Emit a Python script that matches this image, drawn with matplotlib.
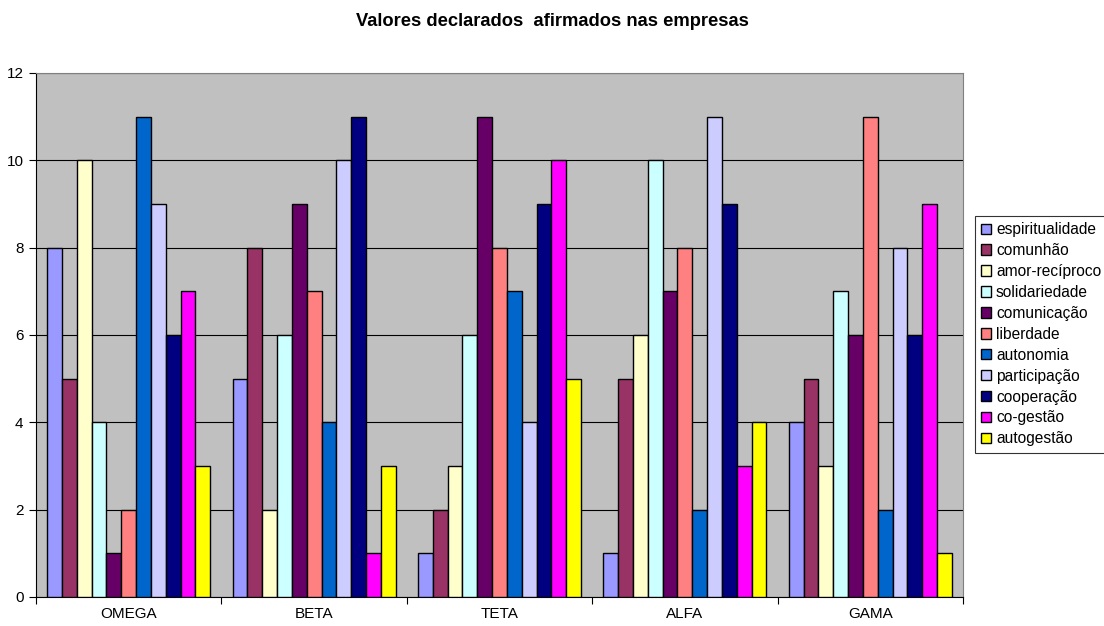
import numpy as np
import matplotlib
matplotlib.use("Agg")
from matplotlib import pyplot as plt

plt.rcParams['font.family'] = ['Liberation Sans', 'DejaVu Sans']

empresas = ['OMEGA', 'BETA', 'TETA', 'ALFA', 'GAMA']
valores = ['espiritualidade', 'comunhão', 'amor-recíproco', 'solidariedade',
           'comunicação', 'liberdade', 'autonomia', 'participação',
           'cooperação', 'co-gestão', 'autogestão']
cores = ['#9999FF', '#993366', '#FFFFCC', '#CCFFFF', '#660066', '#FF8080',
         '#0066CC', '#CCCCFF', '#000080', '#FF00FF', '#FFFF00']

# one row per value, one column per company
espiritualidade = [8, 5, 1, 1, 4]
comunhao = [5, 8, 2, 5, 5]
amor_reciproco = [10, 2, 3, 6, 3]
solidariedade = [4, 6, 6, 10, 7]
comunicacao = [1, 9, 11, 7, 6]
liberdade = [2, 7, 8, 8, 11]
autonomia = [11, 4, 7, 2, 2]
participacao = [9, 10, 4, 11, 8]
cooperacao = [6, 11, 9, 9, 6]
co_gestao = [7, 1, 10, 3, 9]
autogestao = [3, 3, 5, 4, 1]

series = [espiritualidade, comunhao, amor_reciproco, solidariedade, comunicacao,
          liberdade, autonomia, participacao, cooperacao, co_gestao, autogestao]

fig = plt.figure(figsize=(11.04, 6.26), dpi=100)
ax = fig.add_axes([36 / 1104, 1 - 597 / 626, (963 - 36) / 1104, (597 - 73) / 626])
ax.set_facecolor('#C0C0C0')

n = len(series)
largura = 1 / (n + 1.5)
x = np.arange(len(empresas))
for i, (vals, cor, nome) in enumerate(zip(series, cores, valores)):
    pos = x - 0.5 + 0.75 * largura + (i + 0.5) * largura
    ax.bar(pos, vals, width=largura, color=cor, edgecolor='black',
           linewidth=1.0, label=nome, zorder=3)

ax.set_xlim(-0.5, len(empresas) - 0.5)
ax.set_ylim(0, 12)
ax.set_yticks(range(0, 13, 2))
ax.yaxis.grid(True, color='black', linewidth=0.8, zorder=1)
ax.set_xticks(np.arange(len(empresas) + 1) - 0.5)
ax.set_xticklabels([])
ax.set_xticks(x, minor=True)
ax.set_xticklabels(empresas, minor=True)
ax.tick_params(axis='x', which='minor', length=0, labelsize=11, pad=7)
ax.tick_params(axis='x', which='major', length=5, direction='out', color='black')
ax.tick_params(axis='y', labelsize=11, length=5, direction='out', pad=4)
for s in ['top', 'right']:
    ax.spines[s].set_color('#808080')
for s in ['left', 'bottom']:
    ax.spines[s].set_color('black')

fig.text(0.5, 1 - 21 / 626, 'Valores declarados  afirmados nas empresas',
         ha='center', va='center', fontsize=13.2, fontweight='bold')

leg = fig.legend(loc='upper left', bbox_to_anchor=(975 / 1104, 1 - 216 / 626),
                 fontsize=11.2, frameon=True, fancybox=False, edgecolor='black',
                 handlelength=0.65, handleheight=0.65, handletextpad=0.3,
                 labelspacing=0.38, borderpad=0.4, borderaxespad=0)
leg.get_frame().set_linewidth(0.8)

fig.savefig('out.png', dpi=100)
